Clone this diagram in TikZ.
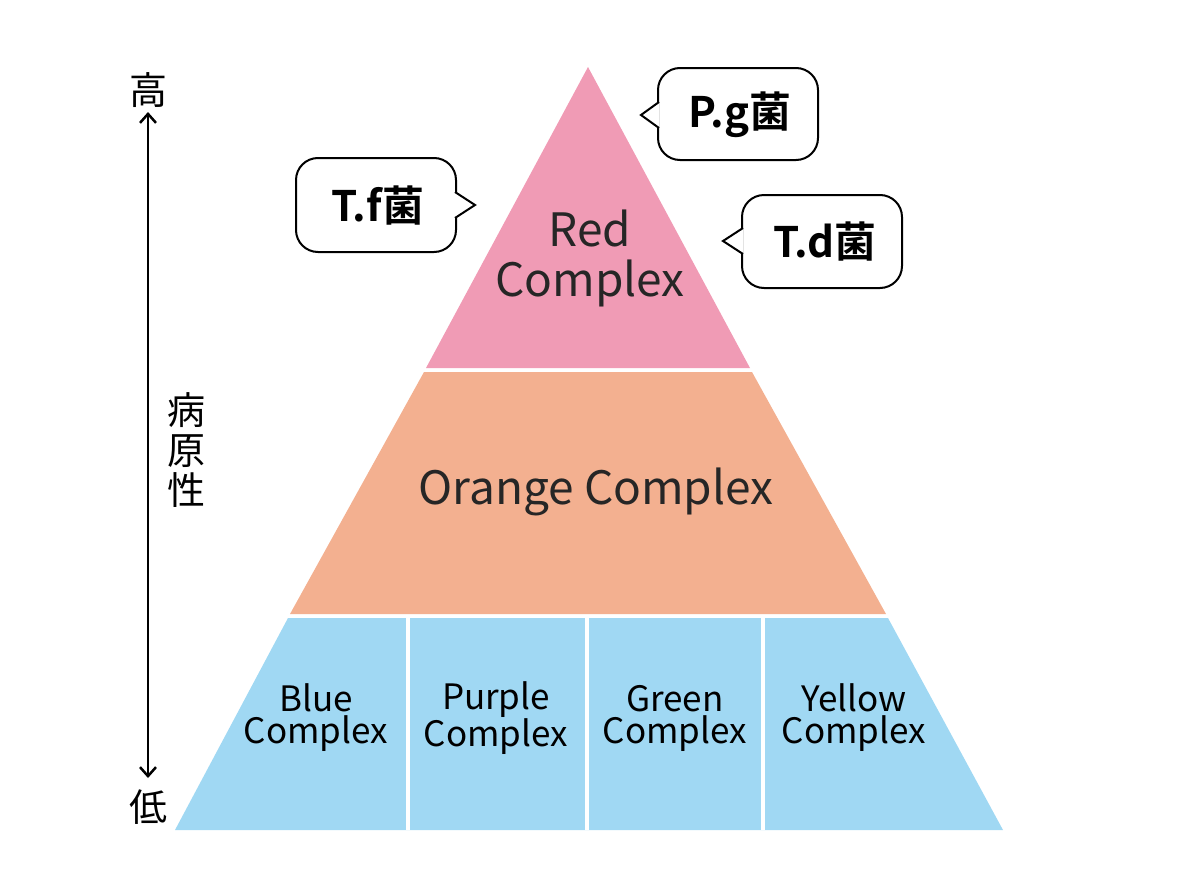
\documentclass[tikz,border=0pt]{standalone}
\usepackage{fontspec}
\setmainfont{Noto Sans CJK JP}
\newfontfamily\cjkb{Noto Sans CJK JP Bold}
\usetikzlibrary{arrows.meta}
\definecolor{cred}{HTML}{F09BB5}
\definecolor{corange}{HTML}{F3B090}
\definecolor{cblue}{HTML}{A0D8F3}
\begin{document}
\begin{tikzpicture}[x=1pt,y=-1pt,
  lbl/.style={font=\fontsize{46}{50}\selectfont,text=black!85,align=center},
  sml/.style={font=\fontsize{35}{32}\selectfont,text=black,align=center},
  bub/.style={draw=black,line width=2pt,rounded corners=22pt,fill=white},
  bt/.style={font=\cjkb\fontsize{42}{44}\selectfont},
  cj/.style={font=\fontsize{38}{40}\selectfont}]
\useasboundingbox (0,0) rectangle (1200,889);
% pyramid
\fill[cblue] (175,830) -- (288,618) -- (888,618) -- (1003,830) -- cycle;
\fill[corange] (290,614) -- (424,372) -- (752,372) -- (886,614) -- cycle;
\fill[cred] (426,368) -- (588,67) -- (750,368) -- cycle;
\draw[white,line width=4pt] (408,618) -- (408,830);
\draw[white,line width=4pt] (587,618) -- (587,830);
\draw[white,line width=4pt] (763,618) -- (763,830);
\node[lbl] (red) at (590,258) {Red\\Complex};
\node[lbl] (orange) at (596,492) {Orange Complex};
\node[sml] (blue) at (316,718) {Blue\\Complex};
\node[sml] (purple) at (496,718) {Purple\\Complex};
\node[sml] (green) at (675,718) {Green\\Complex};
\node[sml] (yellow) at (854,718) {Yellow\\Complex};
% bubbles
\draw[bub] (658,68) rectangle (818,160);
\draw[line width=2pt,fill=white] (659,102) -- (641,115) -- (659,128);
\node[bt] (pg) at (740,115) {P.g菌};
\draw[bub] (296,158) rectangle (456,252);
\draw[line width=2pt,fill=white] (455,192) -- (475,205) -- (455,218);
\node[bt] (tf) at (378,206) {T.f菌};
\draw[bub] (742,195) rectangle (902,288);
\draw[line width=2pt,fill=white] (743,228) -- (723,241) -- (743,254);
\node[bt] (td) at (825,242) {T.d菌};
% axis
\node[cj] (hi) at (148,90) {高};
\node[cj] (lo) at (148,807) {低};
\coordinate (a1) at (148,112);
\coordinate (a2) at (148,778);
\draw[line width=2.5pt,{Straight Barb[length=9pt,width=16pt]}-{Straight Barb[length=9pt,width=16pt]}] (a1) -- (a2);
\node[cj,align=center] (path) at (186,450) {病\\原\\性};
\end{tikzpicture}
\end{document}
